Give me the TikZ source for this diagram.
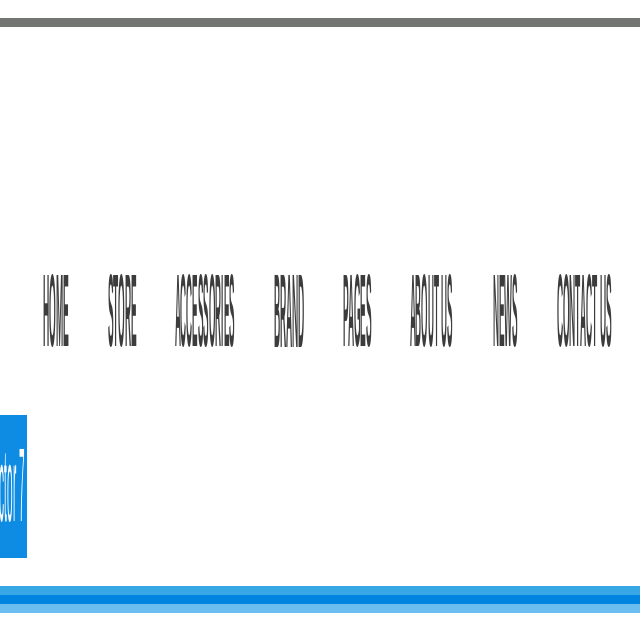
\documentclass[tikz,border=0pt]{standalone}
\usepackage{fontspec}
\setmainfont{Liberation Sans}
\usetikzlibrary{positioning}
\definecolor{bargray}{HTML}{737573}
\definecolor{navgray}{HTML}{3C3C3C}
\definecolor{boxblue}{HTML}{0E8BE2}
\definecolor{stripeA}{HTML}{37A7E6}
\definecolor{stripeB}{HTML}{0084E0}
\definecolor{stripeC}{HTML}{6BBCEF}
\newcommand{\squeeze}[3]{\resizebox{#1}{#2}{#3}}
\tikzset{navitem/.style={inner sep=0pt, text=navgray, font=\bfseries}}

\begin{document}
\begin{tikzpicture}[x=1pt, y=-1pt]
        \useasboundingbox (0,0) rectangle (640,640);
        % top bar
        \fill[bargray] (0,18) rectangle (640,27);
        % menu
        \node[navitem] (home) at (56,311) {\squeeze{26pt}{72pt}{HOME}};
        \node[navitem] (store) at (122.5,311) {\squeeze{29pt}{72pt}{STORE}};
        \node[navitem] (accessories) at (205,311) {\squeeze{60pt}{72pt}{ACCESSORIES}};
        \node[navitem] (brand) at (289.5,311) {\squeeze{31pt}{72pt}{BRAND}};
        \node[navitem] (pages) at (357.5,311) {\squeeze{29pt}{72pt}{PAGES}};
        \node[navitem] (about) at (431.5,311) {\squeeze{43pt}{72pt}{ABOUT US}};
        \node[navitem] (news) at (505.5,311) {\squeeze{25pt}{72pt}{NEWS}};
        \node[navitem] (contact) at (584.5,311) {\squeeze{55pt}{72pt}{CONTACT US}};
        % blue box
        \fill[boxblue] (0,415) rectangle (27,558);
        \node[inner sep=0pt, text=white] (label) at (12.5,486) {\squeeze{25pt}{72pt}{ctor 7}};
        % bottom stripes
        \fill[stripeA] (0,586) rectangle (640,595);
        \fill[stripeB] (0,595) rectangle (640,604);
        \fill[stripeC] (0,604) rectangle (640,613);
    \end{tikzpicture}
\end{document}
